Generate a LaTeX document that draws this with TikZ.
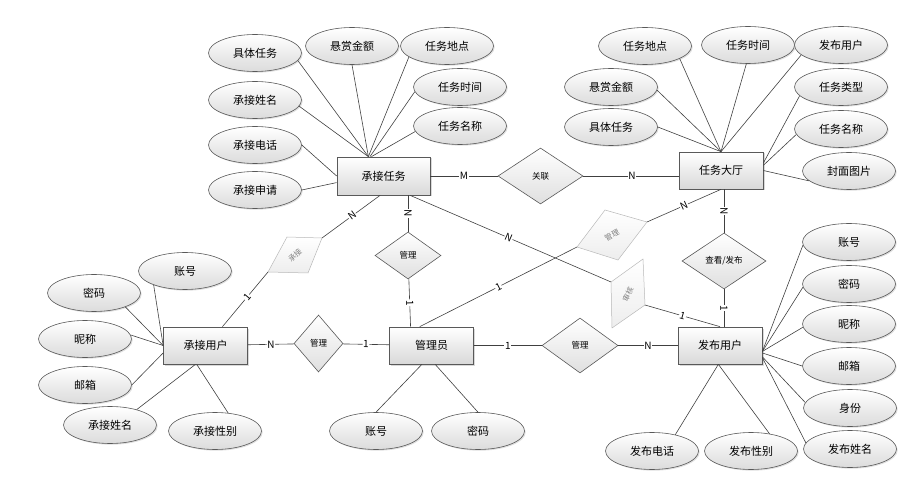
\documentclass[tikz,border=0pt]{standalone}
\usepackage{fontspec}
\setmainfont{Noto Sans CJK SC}
\usetikzlibrary{shapes.geometric,shadows}

\tikzset{
    attr/.style={ellipse, draw=black!65, line width=0.6pt, top color=white, bottom color=gray!28,
        minimum width=93, minimum height=37, inner sep=0pt, font=\fontsize{11}{13}\selectfont,
        drop shadow={shadow xshift=1.2pt, shadow yshift=-1.2pt, opacity=0.25}},
    entity/.style={rectangle, draw=black!65, line width=0.7pt, top color=white, bottom color=gray!30,
        minimum width=84, minimum height=37, inner sep=0pt, font=\fontsize{11}{13}\selectfont,
        drop shadow={shadow xshift=1.5pt, shadow yshift=-1.5pt, opacity=0.3}},
    rel/.style={diamond, draw=black!65, line width=0.6pt, top color=white, bottom color=gray!25,
        inner sep=0pt, font=\fontsize{8.5}{10}\selectfont},
    skew/.style={draw=gray!55, line width=0.5pt, top color=white, bottom color=gray!14},
    skewtext/.style={text=black!50, font=\fontsize{7.5}{8}\selectfont, inner sep=0pt},
    link/.style={draw=black!75, line width=0.6pt},
    lbl/.style={fill=white, inner sep=0.6pt, sloped, font=\fontsize{10}{11}\selectfont}
}

\begin{document}
\begin{tikzpicture}[x=1pt, y=-1pt]
    \useasboundingbox (0,0) rectangle (910,486);

    % entities
    \node[entity, minimum width=93, minimum height=38] (cjrw) at (383.5,176) {承接任务};
    \node[entity] (rwdt) at (721,170.5) {任务大厅};
    \node[entity] (cjyh) at (205.5,345.5) {承接用户};
    \node[entity] (gly) at (431.5,345.5) {管理员};
    \node[entity] (fbyh) at (720,345.5) {发布用户};

    % attributes of 承接任务
    \node[attr] (cja1) at (255,53) {具体任务};
    \node[attr] (cja2) at (352,46) {悬赏金额};
    \node[attr] (cja3) at (447,46) {任务地点};
    \node[attr] (cja4) at (460,87) {任务时间};
    \node[attr] (cja5) at (460,126) {任务名称};
    \node[attr] (cja6) at (255,100) {承接姓名};
    \node[attr] (cja7) at (255,145) {承接电话};
    \node[attr] (cja8) at (255,190) {承接申请};

    % attributes of 任务大厅
    \node[attr] (dta1) at (645,46) {任务地点};
    \node[attr] (dta2) at (748,45) {任务时间};
    \node[attr] (dta3) at (841,45) {发布用户};
    \node[attr] (dta4) at (611,87) {悬赏金额};
    \node[attr] (dta5) at (611,127) {具体任务};
    \node[attr] (dta6) at (841,87) {任务类型};
    \node[attr] (dta7) at (841,129) {任务名称};
    \node[attr] (dta8) at (849,171) {封面图片};

    % attributes of 承接用户
    \node[attr] (yha1) at (185,271) {账号};
    \node[attr] (yha2) at (94,293) {密码};
    \node[attr] (yha3) at (85,339) {昵称};
    \node[attr] (yha4) at (85,385) {邮箱};
    \node[attr] (yha5) at (110,425) {承接姓名};
    \node[attr] (yha6) at (215,431) {承接性别};

    % attributes of 管理员
    \node[attr] (gla1) at (376,431) {账号};
    \node[attr] (gla2) at (478,431) {密码};

    % attributes of 发布用户
    \node[attr] (fba1) at (849,242) {账号};
    \node[attr] (fba2) at (849,284) {密码};
    \node[attr] (fba3) at (849,324) {昵称};
    \node[attr] (fba4) at (849,366) {邮箱};
    \node[attr] (fba5) at (850,408) {身份};
    \node[attr] (fba6) at (850,449) {发布姓名};
    \node[attr] (fba7) at (652,451) {发布电话};
    \node[attr] (fba8) at (751,451) {发布性别};

    % relationships
    \node[rel, minimum width=85, minimum height=56] (gl) at (540.5,176) {关联};
    \node[rel, minimum width=66, minimum height=47] (gl1) at (408,255.5) {管理};
    \node[rel, minimum width=49, minimum height=57] (gl2) at (318.5,343.5) {管理};
    \node[rel, minimum width=76, minimum height=55] (gl3) at (580,345.5) {管理};
    \node[rel, minimum width=84, minimum height=56] (ckfb) at (724,261) {查看/发布};

    % slanted relationships
    \coordinate (cjA) at (287,237);
    \coordinate (cjB) at (322,238);
    \coordinate (cjC) at (308,273);
    \coordinate (cjD) at (268,272);
    \draw[skew] (cjA) -- (cjB) -- (cjC) -- (cjD) -- cycle;
    \node[skewtext, rotate=42] (cj) at (295,255) {承接};

    \coordinate (gmA) at (605,210);
    \coordinate (gmB) at (647,222);
    \coordinate (gmC) at (618,260);
    \coordinate (gmD) at (577,247);
    \draw[skew] (gmA) -- (gmB) -- (gmC) -- (gmD) -- cycle;
    \node[skewtext, rotate=28] (gm) at (612,235) {管理};

    \coordinate (shA) at (611,282);
    \coordinate (shB) at (643,259);
    \coordinate (shC) at (645,305);
    \coordinate (shD) at (612,328);
    \draw[skew] (shA) -- (shB) -- (shC) -- (shD) -- cycle;
    \node[skewtext, rotate=65] (sh) at (628,294) {审核};

    % attribute links
    \draw[link] (cja1.350) -- (cjrw.128);
    \draw[link] (cja2.south) -- (cjrw.128);
    \draw[link] (cja3.196) -- (cjrw.128);
    \draw[link] (cja4.186) -- (cjrw.125);
    \draw[link] (cja5.187) -- (cjrw.122);
    \draw[link] (cja6.352) -- (cjrw.128);
    \draw[link] (cja7.east) -- (cjrw.west);
    \draw[link] (cja8.east) -- (cjrw.188);

    \draw[link] (dta1.340) -- (rwdt.north);
    \draw[link] (dta2.265) -- (rwdt.north);
    \draw[link] (dta3.194) -- (rwdt.north);
    \draw[link] (dta4.356) -- (rwdt.north);
    \draw[link] (dta5.east) -- (rwdt.north);
    \draw[link] (dta6.192) -- (rwdt.10);
    \draw[link] (dta7.187) -- (rwdt.7);
    \draw[link] (dta8.194) -- (rwdt.east);

    \draw[link] (yha1.204) -- (cjyh.west);
    \draw[link] (yha2.336) -- (cjyh.west);
    \draw[link] (yha3.5) -- (cjyh.west);
    \draw[link] (yha4.east) -- (cjyh.190);
    \draw[link] (yha5.30) -- (cjyh.242);
    \draw[link] (yha6.54) -- (cjyh.245);

    \draw[link] (gla1.north) -- (gly.243);
    \draw[link] (gla2.north) -- (gly.281);

    \draw[link] (fba1.184) -- (fbyh.352);
    \draw[link] (fba2.184) -- (fbyh.352);
    \draw[link] (fba3.184) -- (fbyh.352);
    \draw[link] (fba4.west) -- (fbyh.350);
    \draw[link] (fba5.173) -- (fbyh.345);
    \draw[link] (fba6.172) -- (fbyh.344);
    \draw[link] (fba7.35) -- (fbyh.265);
    \draw[link] (fba8.43) -- (fbyh.265);

    % relationship links
    \draw[link] (cjrw) -- node[lbl]{M} (gl);
    \draw[link] (gl) -- node[lbl, pos=0.51]{N} (gl.east -| rwdt.west);
    \draw[link] (cjrw.south -| gl1) -- node[lbl]{N} (gl1);
    \draw[link] (gl1) -- node[lbl]{1} (gly.138);
    \draw[link] (cjrw.260) -- node[lbl, pos=0.48]{N} (cjB);
    \draw[link] (cjyh.48) -- node[lbl, pos=0.54]{1} (cjD);
    \draw[link] (cjrw.324) -- node[lbl, pos=0.49]{N} (shA);
    \draw[link] (shC) -- node[lbl]{1} (fbyh.north);
    \draw[link] (gly.122) -- node[lbl]{1} (gmD);
    \draw[link] (gmB) -- node[lbl]{N} (rwdt.south);
    \draw[link] (rwdt.south -| ckfb) -- node[lbl]{N} (ckfb);
    \draw[link] (ckfb) -- node[lbl]{1} (ckfb |- fbyh.north);
    \draw[link] (cjyh) -- node[lbl]{N} (gl2);
    \draw[link] (gl2) -- node[lbl]{1} (gly);
    \draw[link] (gly) -- node[lbl]{1} (gl3);
    \draw[link] (gl3) -- node[lbl]{N} (fbyh);
\end{tikzpicture}
\end{document}
